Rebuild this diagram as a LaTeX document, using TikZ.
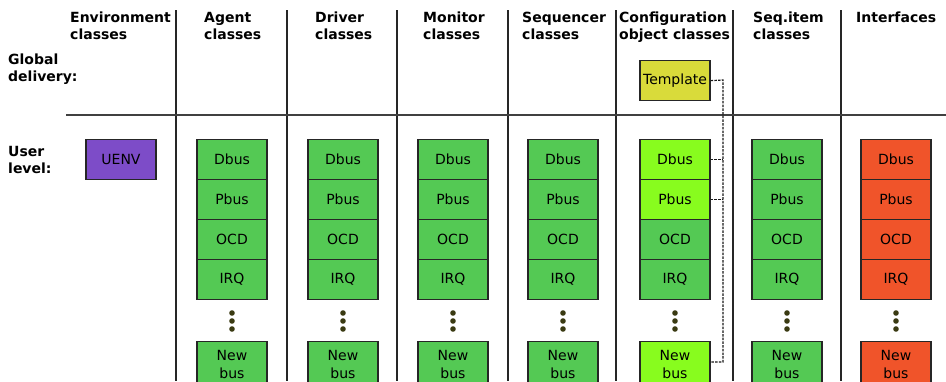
\documentclass[tikz,border=0pt]{standalone}
\usepackage{fontspec}
\setmainfont{DejaVu Sans}
\begin{document}
\begin{tikzpicture}[x=1pt,y=-1pt,
  hdr/.style={anchor=north west, align=left, inner sep=0pt, font=\fontsize{14}{17}\selectfont\bfseries},
  bx/.style={draw=black!85, line width=1.3pt, minimum width=70pt, minimum height=40pt, inner sep=0pt, font=\fontsize{14}{17}\selectfont, anchor=north},
  grn/.style={bx, fill=cgreen},
  lgr/.style={bx, fill=clime},
  org/.style={bx, fill=corange},
  sep/.style={draw=black!85, line width=1.5pt},
  dotc/.style={fill=cdot, draw=none},
  dashlink/.style={draw=black!90, line width=1.2pt, dash pattern=on 2.5pt off 1.2pt}
]
\definecolor{cgreen}{HTML}{54C954}
\definecolor{clime}{HTML}{88FC1E}
\definecolor{corange}{HTML}{F0542A}
\definecolor{cyellow}{HTML}{D9DB3A}
\definecolor{cpurple}{HTML}{7D4CC8}
\definecolor{cdot}{HTML}{3A3A12}
\path[use as bounding box] (0,0) rectangle (946,381);
\clip (0,0) rectangle (946,381);
\fill[white] (0,0) rectangle (946,381);

% separators
\foreach \x/\n in {176/a,287/b,397/c,508/d,616/e,733/f,841/g}{
  \coordinate (t\n) at (\x,10);
  \coordinate (b\n) at (\x,381);
  \draw[sep] (t\n) -- (b\n);
}
\coordinate (hl) at (66,115);
\coordinate (hr) at (946,115);
\draw[draw=black!75, line width=1.8pt] (hl) -- (hr);

% headers
\node[hdr] (h1) at (70,12) {Environment\\classes};
\node[hdr] (h2) at (204,12) {Agent\\classes};
\node[hdr] (h3) at (315,12) {Driver\\classes};
\node[hdr] (h4) at (423,12) {Monitor\\classes};
\node[hdr] (h5) at (522,12) {Sequencer\\classes};
\node[hdr] (h6) at (619,12) {Configuration\\object classes};
\node[hdr] (h7) at (753,12) {Seq.item\\classes};
\node[hdr] (h8) at (856,12) {Interfaces};
\node[hdr] (gd) at (8,54) {Global\\delivery:};
\node[hdr] (ul) at (8,146) {User\\level:};

% UENV
\node[bx, fill=cpurple] (uenv) at (121,139) {UENV};

% columns
\foreach \x/\c/\s in {232/a/grn,343/b/grn,453/c/grn,563/d/grn,787/f/grn,896/g/org}{
  \node[\s] (\c1) at (\x,139) {Dbus};
  \node[\s] (\c2) at (\x,179) {Pbus};
  \node[\s] (\c3) at (\x,219) {OCD};
  \node[\s] (\c4) at (\x,259) {IRQ};
  \node[\s, minimum height=46pt, align=center, font=\fontsize{14}{18}\selectfont] (\c5) at (\x,341) {New\\bus};
  \fill[dotc] (\x,313) circle (2.8pt) (\x,321) circle (2.8pt) (\x,329) circle (2.8pt);
}
% configuration column
\node[bx, fill=cyellow] (tmpl) at (675,60) {Template};
\node[lgr] (e1) at (675,139) {Dbus};
\node[lgr] (e2) at (675,179) {Pbus};
\node[grn] (e3) at (675,219) {OCD};
\node[grn] (e4) at (675,259) {IRQ};
\node[lgr, minimum height=46pt, align=center, font=\fontsize{14}{18}\selectfont] (e5) at (675,341) {New\\bus};
\fill[dotc] (675,313) circle (2.8pt) (675,321) circle (2.8pt) (675,329) circle (2.8pt);

% dashed connectors
\coordinate (j0) at (723,80);
\coordinate (j5) at (723,362);
\draw[dashlink] (tmpl.east) -- (j0) -- (j5) -- (e5.east |- j5);
\draw[dashlink] (e1.east) -- (e1.east -| j0);
\draw[dashlink] (e2.east) -- (e2.east -| j0);
\end{tikzpicture}
\end{document}
